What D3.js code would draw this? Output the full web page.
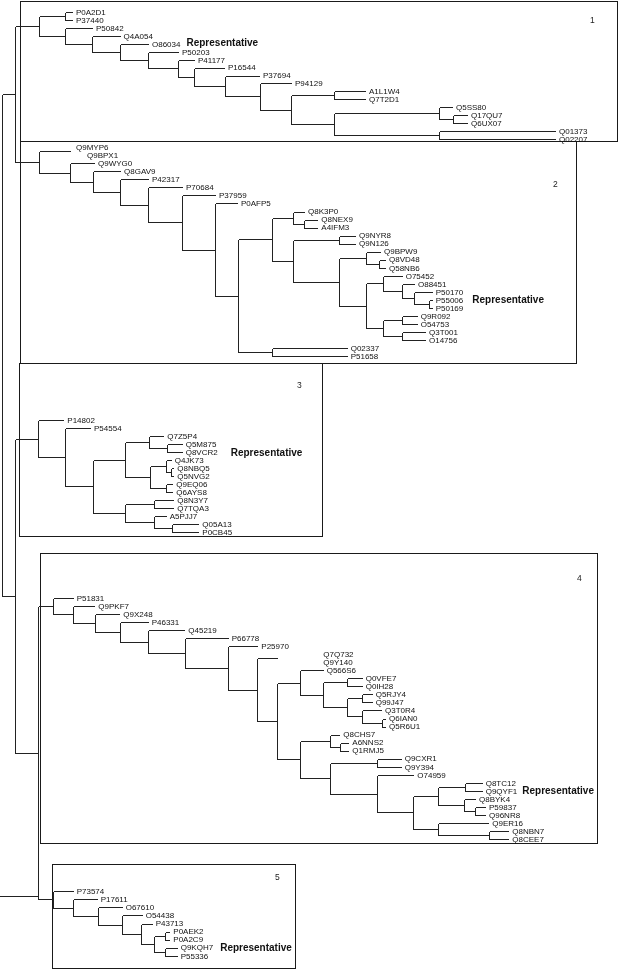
<!DOCTYPE html>
<html>
<head>
<meta charset="utf-8">
<script src="https://cdn.jsdelivr.net/npm/d3@7"></script>
<style>
  body { margin: 0; background: #fff; }
  svg { display: block; font-family: "Liberation Sans", Arial, sans-serif; filter: grayscale(1); }
</style>
</head>
<body>
<div id="chart"></div>
<script>
// Newick trees, one per cluster (branch lengths in distance units)
const cluster1 = `(
 (P0A2D1:0.07,P37440:0.07):0.26,
 (P50842:0.27,
  (Q4A054:0.275,
   (O86034:0.28,
    (P50203:0.30,
     (P41177:0.16,
      (P16544:0.30,
       (P37694:0.34,
        (P94129:0.31,
         (
          (A1L1W4:0.307,Q7T2D1:0.307):0.433,
          (
           (Q5SS80:0.127,(Q17QU7:0.137,Q6UX07:0.137):0.14):1.05,
           (Q01373:1.157,Q02207:1.157):1.05
          ):0.433
         ):0.31
        ):0.35
       ):0.31
      ):0.16
     ):0.30
    ):0.28
   ):0.28
  ):0.27
 ):0.26
)`;

const cluster2 = `(
 (Q9MYP6:0.02,Q9BPX1:0.13):0.31,
 (Q9WYG0:0.24,
  (Q8GAV9:0.27,
   (P42317:0.28,
    (P70684:0.34,
     (P37959:0.33,
      (P0AFP5:0.22,
       (
        (
         (Q8K3P0:0.113,(Q8NEX9:0.133,A4IFM3:0.133):0.113):0.204,
         (
          (Q9NYR8:0.157,Q9N126:0.157):0.466,
          (
           (Q9BPW9:0.143,(Q8VD48:0.06,Q58NB6:0.06):0.133):0.264,
           (
            (O75452:0.184,(O88451:0.123,(P50170:0.177,(P55006:0.024,P50169:0.024):0.153):0.123):0.184):0.176,
            ((Q9R092:0.144,O54753:0.144):0.19,(Q3T001:0.227,O14756:0.227):0.19):0.176
           ):0.264
          ):0.466
         ):0.204
        ):0.346,
        (Q02337:0.744,P51658:0.744):0.346
       ):0.227
      ):0.33
     ):0.34
    ):0.28
   ):0.27
  ):0.23
 ):0.31
)`;

const cluster3 = `(
 P14802:0.256,
 (P54554:0.25,
  (
   (
    (Q7Z5P4:0.143,(Q5M875:0.15,Q8VCR2:0.15):0.177):0.24,
    (
     (Q4JK73:0.05,(Q8NBQ5:0.026,Q5NVG2:0.026):0.05):0.157,
     (Q9EQ06:0.066,Q6AYS8:0.066):0.157
    ):0.25
   ):0.323,
   (
    (Q8N3Y7:0.19,Q7TQA3:0.19):0.293,
    (A5PJJ7:0.114,(Q05A13:0.266,P0CB45:0.266):0.174):0.293
   ):0.323
  ):0.277
 ):0.273
)`;

const cluster4 = `(
 P51831:0.194,
 (Q9PKF7:0.21,
  (Q9X248:0.243,
   (P46331:0.277,
    (Q45219:0.36,
     (P66778:0.427,
      (P25970:0.296,
       (
        (Q7Q732:0.426,Q9Y140:0.426):0.194,
        (
         (Q566S6:0.227,
          (
           (Q0VFE7:0.15,Q0IH28:0.15):0.24,
           (
            (Q5RJY4:0.094,Q99J47:0.094):0.156,
            (Q3T0R4:0.193,(Q6IAN0:0.033,Q5R6U1:0.033):0.20):0.15
           ):0.24
          ):0.227
         ):0.233,
         (
          (Q8CHS7:0.093,(A6NNS2:0.083,Q1RMJ5:0.083):0.10):0.30,
          (
           (Q9CXR1:0.234,Q9Y394:0.234):0.473,
           (O74959:0.36,
            (
             (
              (Q8TC12:0.167,Q9QYF1:0.167):0.267,
              (Q8BYK4:0.107,(P59837:0.10,Q96NR8:0.10):0.107):0.26
             ):0.256,
             (Q9ER16:0.50,(Q8NBN7:0.193,Q8CEE7:0.193):0.507):0.256
            ):0.354
           ):0.473
          ):0.30
         ):0.233
        ):0.194
       ):0.296
      ):0.427
     ):0.367
    ):0.283
   ):0.25
  ):0.217
 ):0.20
)`;

const cluster5 = `(
 P73574:0.20,
 (P17611:0.234,
  (O67610:0.24,
   (O54438:0.20,
    (P43713:0.107,
     ((P0AEK2:0.043,P0A2C9:0.043):0.107,(Q9KQH7:0.117,P55336:0.117):0.107):0.133
    ):0.193
   ):0.24
  ):0.244
 ):0.206
)`;

// how the clusters hang together
const backbone = "((C1:0.24,C2:0.24):0.135,(C3:0.227,(C4:0.153,C5:0.147):0.23):0.135)";

const clusterNames = ["1", "2", "3", "4", "5"];
const representatives = ["O86034", "P55006", "Q8VCR2", "Q9QYF1", "Q9KQH7"];
// clades drawn without their own bracket / tip lines
const collapsedClades = [["Q9MYP6", "Q9BPX1"], ["Q7Q732", "Q9Y140"]];

// ---- layout ----
const width = 619, height = 970;
const leafRange = [[12.3, 138.7], [147.3, 356], [420.3, 531.7], [598, 839], [891.3, 955.7]];
const boxes = [
    { x0: 20, y0: 1, x1: 617, y1: 141, lx: 590, ly: 20 },
    { x0: 20, y0: 141, x1: 576, y1: 363, lx: 553, ly: 184 },
    { x0: 19, y0: 363, x1: 322, y1: 536, lx: 297, ly: 385 },
    { x0: 40, y0: 553, x1: 597, y1: 843, lx: 577, ly: 578 },
    { x0: 52, y0: 864, x1: 295, y1: 968, lx: 275, ly: 877 }
];
const repGap = [6, 9, 13, 5, 7];
const repShift = [-1.5, 0, 0, 0, 0];

function parseNewick(s) {
    s = s.replace(/\s+/g, "");
    let i = 0;
    function node() {
        const n = { children: [] };
        if (s[i] === "(") {
            i++;
            n.children.push(node());
            while (s[i] === ",") { i++; n.children.push(node()); }
            i++; // ')'
        }
        let name = "";
        while (i < s.length && !":,();".includes(s[i])) name += s[i++];
        n.name = name;
        n.length = 0;
        if (s[i] === ":") {
            i++;
            let num = "";
            while (i < s.length && !",();".includes(s[i])) num += s[i++];
            n.length = +num;
        }
        if (!n.children.length) delete n.children;
        return n;
    }
    return node();
}

const clusterTrees = [cluster1, cluster2, cluster3, cluster4, cluster5].map(parseNewick);
const rootData = parseNewick(backbone);
(function graft(n) {
    if (!n.children) return;
    n.children = n.children.map(c => {
        const m = c.name.match(/^C(\d)$/);
        if (m) {
            const t = clusterTrees[+m[1] - 1];
            t.length = c.length;
            t.cluster = +m[1] - 1;
            return t;
        }
        graft(c);
        return c;
    });
})(rootData);

const root = d3.hierarchy(rootData);
root.eachBefore(d => {
    d.cluster = d.data.cluster !== undefined ? d.data.cluster : (d.parent ? d.parent.cluster : undefined);
    d.dist = d.parent ? d.parent.dist + d.data.length : 0;
});

const x = d3.scaleLinear().domain([0, 1]).range([1.5, 101.5]);

const leaves = root.leaves();
clusterNames.forEach((c, k) => {
    const ls = leaves.filter(d => d.cluster === k);
    const y = d3.scaleLinear().domain([0, ls.length - 1]).range(leafRange[k]);
    ls.forEach((d, i) => { d.py = y(i); });
});
root.eachAfter(d => {
    d.px = x(d.dist);
    if (d.children) d.py = (d.children[0].py + d.children[d.children.length - 1].py) / 2;
});

const isCollapsed = d => d.children && collapsedClades.some(cl =>
    cl.length === d.leaves().length && d.leaves().every(l => cl.includes(l.data.name)));

const svg = d3.select("#chart").append("svg")
    .attr("width", width)
    .attr("height", height)
    .style("background", "#fff");

// cluster boxes
svg.append("g").selectAll("rect")
    .data(boxes)
    .enter().append("rect")
    .attr("x", d => d.x0 + 0.5)
    .attr("y", d => d.y0 + 0.5)
    .attr("width", d => d.x1 - d.x0)
    .attr("height", d => d.y1 - d.y0)
    .attr("fill", "none")
    .attr("stroke", "#1a1a1a")
    .attr("stroke-width", 1);

svg.append("g").selectAll("text")
    .data(boxes)
    .enter().append("text")
    .attr("x", d => d.lx)
    .attr("y", d => d.ly)
    .attr("dy", "0.35em")
    .attr("font-size", 8.5)
    .attr("fill", "#222")
    .text((d, i) => clusterNames[i]);

// branches
const r = v => Math.round(v) + 0.5;
let path = "";
root.each(d => {
    const hidden = d.parent && isCollapsed(d.parent);
    if (d.parent && !hidden) path += `M${r(d.parent.px)},${r(d.py)}H${r(d.px)}`;
    if (d.children && !isCollapsed(d)) {
        path += `M${r(d.px)},${r(d.children[0].py)}V${r(d.children[d.children.length - 1].py)}`;
    }
});
// root stub drawn in at the bottom left
const node45 = root.children[1].children[1];
path += `M0,${r(node45.children[1].py - 3)}H${r(node45.px)}`;

svg.append("path")
    .attr("d", path)
    .attr("fill", "none")
    .attr("stroke", "#222")
    .attr("stroke-width", 1)
    .attr("shape-rendering", "crispEdges");

// tip labels
const labels = svg.append("g").selectAll("text")
    .data(leaves)
    .enter().append("text")
    .attr("x", d => d.px + 4)
    .attr("y", d => d.py)
    .attr("dy", "0.35em")
    .attr("font-size", 8)
    .attr("fill", "#111")
    .text(d => d.data.name);

const labelEnd = {};
labels.each(function(d) { labelEnd[d.data.name] = d.px + 4 + this.getComputedTextLength(); });

svg.append("g").selectAll("text")
    .data(representatives)
    .enter().append("text")
    .attr("x", (d, i) => labelEnd[d] + repGap[i])
    .attr("y", (d, i) => leaves.find(l => l.data.name === d).py + repShift[i])
    .attr("dy", "0.35em")
    .attr("font-size", 10)
    .attr("font-weight", "bold")
    .attr("fill", "#111")
    .text("Representative");
</script>
</body>
</html>
